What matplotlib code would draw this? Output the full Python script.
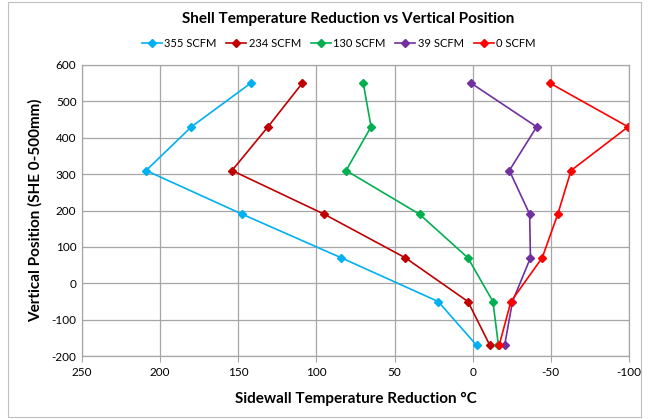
import matplotlib
matplotlib.use("Agg")
import matplotlib.pyplot as plt
from matplotlib.patches import Rectangle

positions = [550, 430, 310, 190, 70, -50, -170]
series_names = ["355 SCFM", "234 SCFM", "130 SCFM", "39 SCFM", "0 SCFM"]
s355 = [142, 180, 209, 147.5, 84, 22, -2.5]
s234 = [109, 131, 154, 95, 43, 3, -11]
s130 = [70, 65, 81, 34, 3, -13, -16.5]
s39 = [1, -41, -23.5, -36.5, -37, -25.5, -20.5]
s0 = [-49.5, -99.5, -63, -54.5, -44.5, -24.5, -17]
colors = ["#00B0F0", "#C00000", "#00B050", "#7030A0", "#FF0000"]
xticks = [250, 200, 150, 100, 50, 0, -50, -100]
yticks = [-200, -100, 0, 100, 200, 300, 400, 500, 600]

plt.rcParams['font.family'] = ['Lato', 'DejaVu Sans']
plt.rcParams['axes.unicode_minus'] = False

fig = plt.figure(figsize=(6.51, 4.19), dpi=100)
fig.patches.append(Rectangle((0.012, 0.005), 0.972, 0.99, transform=fig.transFigure,
                             fill=False, edgecolor="#BFBFBF", linewidth=0.8))
ax = fig.add_axes([0.126, 0.150, 0.840, 0.695])

for vals, name, c in zip([s355, s234, s130, s39, s0], series_names, colors):
    ax.plot(vals, positions, color=c, marker="D", markersize=3.8, linewidth=1.2, label=name)

ax.set_xlim(250, -100)
ax.set_ylim(-200, 600)
ax.set_xticks(xticks)
ax.set_yticks(yticks)
ax.grid(True, color="#A6A6A6", linewidth=0.9)
ax.set_axisbelow(True)
for s in ax.spines.values():
    s.set_color("#A6A6A6")
    s.set_linewidth(0.9)
ax.tick_params(axis="both", labelsize=8.5, length=4, color="#A6A6A6", pad=4)
ax.tick_params(axis="y", length=0)

ax.set_xlabel("Sidewall Temperature Reduction °C", fontsize=11, fontweight="bold", labelpad=10)
ax.set_ylabel("Vertical Position (SHE 0-500mm)", fontsize=11, fontweight="bold", labelpad=6)
fig.text(0.535, 0.955, "Shell Temperature Reduction vs Vertical Position", ha="center",
         va="center", fontsize=11, fontweight="bold")
fig.legend(loc="center", bbox_to_anchor=(0.52, 0.897), ncol=5, frameon=False, fontsize=8,
           handlelength=1.8, handletextpad=0.2, columnspacing=0.9)

fig.savefig("out.png", dpi=100)
